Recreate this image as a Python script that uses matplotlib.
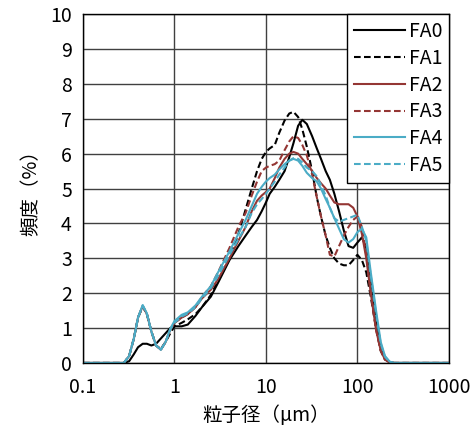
"""Particle size distribution of FA samples."""

import matplotlib
matplotlib.use("Agg")
import matplotlib.pyplot as plt
from matplotlib.ticker import FixedLocator, FixedFormatter, NullLocator

plt.rcParams["font.family"] = ["Noto Sans CJK JP", "DejaVu Sans"]

# particle size (um)
size = [0.1, 0.28, 0.32, 0.36, 0.40, 0.45, 0.50, 0.56, 0.63, 0.71, 0.80, 0.90,
        1.0, 1.2, 1.4, 1.7, 2.0, 2.5, 3.0, 4.0, 5.0, 6.0, 7.0, 8.0, 9.0,
        10, 11, 12.5, 14, 16, 18, 20, 22.5, 25, 28, 32, 36, 40, 45, 50,
        56, 63, 71, 80, 90, 100, 112, 125, 140, 160, 180, 200, 225, 250, 1000]

fa0 = [0, 0, 0.05, 0.25, 0.45, 0.55, 0.55, 0.5, 0.55, 0.7, 0.85, 1.0,
       1.05, 1.05, 1.1, 1.35, 1.6, 1.9, 2.3, 2.95, 3.35, 3.65, 3.9, 4.1, 4.35,
       4.6, 4.85, 5.05, 5.25, 5.5, 5.9, 6.3, 6.8, 6.97, 6.85, 6.5, 6.15, 5.85, 5.5, 5.25,
       4.85, 4.35, 3.8, 3.35, 3.3, 3.45, 3.6, 3.3, 2.4, 1.3, 0.5, 0.15, 0.02, 0, 0]

fa1 = [0, 0, 0.2, 0.7, 1.3, 1.62, 1.4, 0.9, 0.5, 0.4, 0.6, 0.85,
       1.05, 1.15, 1.25, 1.4, 1.6, 1.95, 2.35, 3.0, 3.7, 4.4, 5.0, 5.5, 5.85,
       6.05, 6.15, 6.25, 6.6, 6.95, 7.15, 7.2, 7.05, 6.7, 6.2, 5.5, 4.75, 4.2, 3.65, 3.3,
       3.0, 2.85, 2.8, 2.8, 2.95, 3.1, 2.95, 2.6, 1.9, 1.0, 0.35, 0.1, 0.02, 0, 0]

fa2 = [0, 0, 0.2, 0.7, 1.3, 1.63, 1.4, 0.9, 0.5, 0.38, 0.6, 0.95,
       1.15, 1.3, 1.4, 1.6, 1.85, 2.1, 2.4, 3.0, 3.5, 3.9, 4.35, 4.65, 4.8,
       4.9, 5.0, 5.3, 5.6, 5.85, 6.0, 6.05, 6.0, 5.85, 5.7, 5.5, 5.3, 5.15, 5.0, 4.8,
       4.6, 4.55, 4.55, 4.55, 4.45, 4.2, 3.7, 3.0, 2.0, 0.95, 0.35, 0.1, 0.02, 0, 0]

fa3 = [0, 0, 0.2, 0.7, 1.3, 1.63, 1.4, 0.9, 0.5, 0.38, 0.6, 0.95,
       1.15, 1.3, 1.4, 1.6, 1.9, 2.2, 2.6, 3.3, 3.9, 4.3, 4.8, 5.2, 5.5,
       5.6, 5.65, 5.7, 5.8, 6.1, 6.35, 6.5, 6.45, 6.25, 5.95, 5.4, 4.75, 4.2, 3.65, 3.1,
       3.05, 3.35, 3.65, 3.9, 4.1, 4.2, 3.9, 3.1, 2.0, 0.95, 0.35, 0.1, 0.02, 0, 0]

fa4 = [0, 0, 0.2, 0.7, 1.3, 1.66, 1.42, 0.9, 0.5, 0.38, 0.6, 0.98,
       1.2, 1.38, 1.45, 1.65, 1.9, 2.2, 2.6, 3.2, 3.7, 4.1, 4.5, 4.85, 5.05,
       5.2, 5.3, 5.4, 5.55, 5.7, 5.8, 5.85, 5.8, 5.65, 5.45, 5.3, 5.2, 5.0, 4.7, 4.45,
       4.15, 3.85, 3.55, 3.45, 3.55, 3.75, 3.85, 3.6, 2.6, 1.5, 0.6, 0.2, 0.04, 0, 0]

fa5 = [0, 0, 0.2, 0.7, 1.3, 1.64, 1.4, 0.9, 0.5, 0.38, 0.6, 0.95,
       1.15, 1.33, 1.42, 1.6, 1.85, 2.15, 2.5, 3.1, 3.55, 3.9, 4.3, 4.55, 4.7,
       4.85, 5.0, 5.2, 5.4, 5.6, 5.8, 5.87, 5.85, 5.75, 5.6, 5.5, 5.35, 5.1, 4.8, 4.45,
       4.15, 4.05, 4.1, 4.15, 4.2, 4.25, 3.9, 3.5, 2.5, 1.4, 0.55, 0.18, 0.03, 0, 0]

series = ["FA0", "FA1", "FA2", "FA3", "FA4", "FA5"]
x_ticks = [0.1, 1, 10, 100, 1000]
x_tick_labels = ["0.1", "1", "10", "100", "1000"]

BLACK = "#000000"
RED = "#943634"
CYAN = "#4BACC6"
DASH = (0, (3.2, 1.6))

fig = plt.figure(figsize=(4.74, 4.28), dpi=100)
ax = fig.add_axes([0.175, 0.152, 0.772, 0.815])

styles = [(BLACK, "-"), (BLACK, DASH), (RED, "-"), (RED, DASH), (CYAN, "-"), (CYAN, DASH)]
for name, values, (color, ls) in zip(series, [fa0, fa1, fa2, fa3, fa4, fa5], styles):
    ax.plot(size, values, color=color, linestyle=ls, linewidth=1.5, label=name)

ax.set_xscale("log")
ax.set_xlim(0.1, 1000)
ax.set_ylim(0, 10)
ax.xaxis.set_major_locator(FixedLocator(x_ticks))
ax.xaxis.set_major_formatter(FixedFormatter(x_tick_labels))
ax.xaxis.set_minor_locator(NullLocator())
ax.set_yticks(range(0, 11))
ax.tick_params(axis="x", length=0, labelsize=14, pad=10)
ax.tick_params(axis="y", length=0, labelsize=14, pad=8)
ax.grid(True, color="#404040", linewidth=1.0)
ax.set_axisbelow(True)
for spine in ax.spines.values():
    spine.set_color("black")
    spine.set_linewidth(1.0)

ax.set_xlabel("粒子径（μm）", fontsize=14, labelpad=5)
ax.set_ylabel("頻度（%）", fontsize=14, labelpad=6)

leg = ax.legend(loc="upper right", borderaxespad=0, fontsize=14, frameon=True,
                fancybox=False, edgecolor="black", framealpha=1,
                handlelength=2.6, handletextpad=0.2, labelspacing=0.3,
                borderpad=0.35)
leg.get_frame().set_linewidth(1.0)

fig.savefig("out.png", dpi=100)
